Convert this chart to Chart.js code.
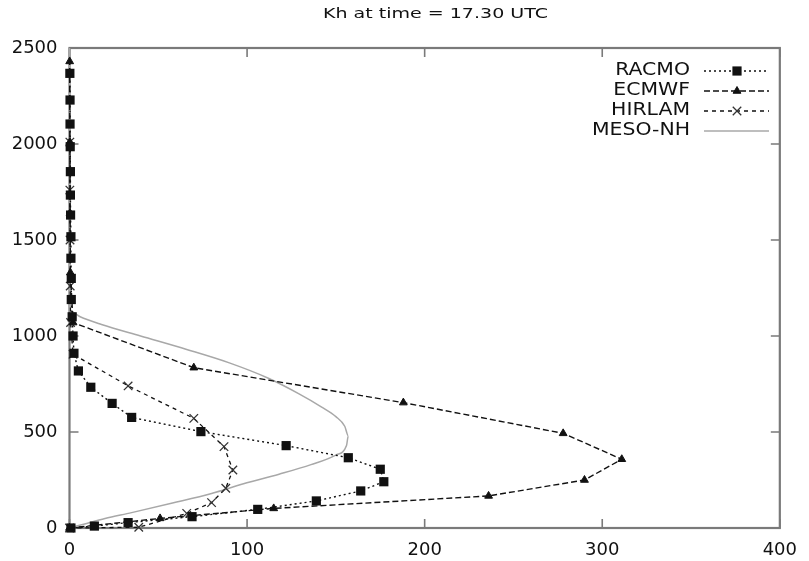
<!DOCTYPE html>
<html>
<head>
<meta charset="utf-8">
<script src="https://cdn.jsdelivr.net/npm/chart.js@4/dist/chart.umd.min.js"></script>
<style>
  html, body { margin: 0; padding: 0; background: #fff; }
  #wrap { width: 809px; height: 561px; }
</style>
</head>
<body>
<div id="wrap"><canvas id="c" width="809" height="561"></canvas></div>
<script>
// Kh profiles (x = Kh, y = height) for each model at 17.30 UTC
const seriesNames = ['RACMO', 'ECMWF', 'HIRLAM', 'MESO-NH'];

const racmoKh = [0.8, 14, 33, 69, 106, 139, 164, 177, 175, 157, 122, 74, 35, 24, 12, 5, 2.5, 2, 1.5, 1, 1, 0.8, 0.8, 0.6, 0.5, 0.5, 0.4, 0.3, 0.3, 0.2];
const racmoZ  = [0, 10, 28, 59, 97, 141, 193, 241, 306, 366, 429, 502, 576, 649, 733, 818, 910, 1000, 1100, 1190, 1300, 1405, 1517, 1630, 1734, 1856, 1986, 2104, 2229, 2368];

const ecmwfKh = [0, 51, 115, 236, 290, 311, 278, 188, 70, 2, 0.5, 0.3, 0.2, 0.1];
const ecmwfZ  = [0, 50, 102, 167, 250, 358, 493, 653, 835, 1070, 1330, 1640, 2010, 2430];

const hirlamKh = [0, 39, 66, 80, 88, 92, 87, 70, 33, 2, 0.6, 0.4, 0.3, 0.2, 0.2];
const hirlamZ  = [0, 4, 76, 132, 207, 302, 424, 571, 740, 905, 1070, 1260, 1500, 1760, 2010];

const mesoKh = [0, 8, 20, 35, 58, 80, 98, 118, 136, 150, 156, 157, 155, 150, 142, 129, 112, 90, 66, 40, 18, 6, 0, 0];
const mesoZ  = [0, 20, 50, 80, 130, 180, 230, 280, 330, 380, 430, 480, 530, 580, 630, 700, 780, 860, 930, 1000, 1060, 1100, 1130, 2500];

const xTicks = [0, 100, 200, 300, 400];
const yTicks = [0, 500, 1000, 1500, 2000, 2500];
const titleText = 'Kh at time = 17.30 UTC';

function pts(xs, ys) { return xs.map((v, i) => ({ x: v, y: ys[i] })); }

const ink = '#111';
const frameColor = '#7a7a7a';

// Frame with inward ticks on all four sides (drawn under the data)
const framePlugin = {
  id: 'frame',
  beforeDatasetsDraw(chart) {
    const { ctx, chartArea: a, scales } = chart;
    ctx.save();
    ctx.strokeStyle = frameColor;
    ctx.lineWidth = 2.2;
    ctx.strokeRect(a.left, a.top, a.right - a.left, a.bottom - a.top);
    ctx.lineWidth = 1.6;
    const tl = 9;
    ctx.beginPath();
    xTicks.forEach(v => {
      const px = scales.x.getPixelForValue(v);
      ctx.moveTo(px, a.bottom); ctx.lineTo(px, a.bottom - tl);
      ctx.moveTo(px, a.top); ctx.lineTo(px, a.top + tl);
    });
    yTicks.forEach(v => {
      const py = scales.y.getPixelForValue(v);
      ctx.moveTo(a.left, py); ctx.lineTo(a.left + tl, py);
      ctx.moveTo(a.right, py); ctx.lineTo(a.right - tl, py);
    });
    ctx.stroke();
    ctx.restore();
  }
};

// Title and key: right-aligned names followed by line samples
const keyPlugin = {
  id: 'key',
  afterDraw(chart) {
    const { ctx } = chart;
    ctx.save();
    ctx.fillStyle = ink;
    ctx.textBaseline = 'middle';

    // title
    ctx.font = '14px "DejaVu Sans"';
    const tw = ctx.measureText(titleText).width;
    const sx = 225 / tw;
    ctx.save();
    ctx.translate(435.5, 14.5);
    ctx.scale(sx, 1);
    ctx.textAlign = 'center';
    ctx.fillText(titleText, 0, 0);
    ctx.restore();

    // key entries
    ctx.font = '17px "DejaVu Sans"';
    const textRight = 690;
    const x0 = 704, x1 = 769, xm = 737;
    chart.data.datasets.forEach((ds, i) => {
      const y = 71 + i * 20;
      ctx.save();
      ctx.translate(textRight, y);
      ctx.scale(1.2, 1);
      ctx.textAlign = 'right';
      ctx.fillStyle = ink;
      ctx.fillText(ds.label, 0, 0);
      ctx.restore();

      ctx.save();
      ctx.strokeStyle = ds.borderColor;
      ctx.lineWidth = ds.borderWidth;
      ctx.setLineDash(ds.borderDash || []);
      ctx.beginPath();
      ctx.moveTo(x0, y); ctx.lineTo(x1, y);
      ctx.stroke();
      ctx.restore();
      if (ds.pointRadius > 0) {
        ctx.save();
        ctx.setLineDash([]);
        ctx.fillStyle = ds.pointBackgroundColor;
        ctx.strokeStyle = ds.pointBorderColor;
        ctx.lineWidth = ds.pointBorderWidth;
        Chart.helpers.drawPoint(ctx, {
          pointStyle: ds.pointStyle,
          radius: ds.pointRadius,
          borderWidth: ds.pointBorderWidth,
          rotation: 0
        }, xm, y);
        ctx.restore();
      }
    });
    ctx.restore();
  }
};

const datasets = [
  {
    label: seriesNames[0],
    data: pts(racmoKh, racmoZ),
    borderColor: ink, borderWidth: 1.4, borderDash: [2, 3],
    pointStyle: 'rect', pointRadius: 6.5, pointBorderWidth: 0,
    pointBackgroundColor: ink, pointBorderColor: ink,
    order: 1
  },
  {
    label: seriesNames[1],
    data: pts(ecmwfKh, ecmwfZ),
    borderColor: ink, borderWidth: 1.4, borderDash: [6, 3],
    pointStyle: 'triangle', pointRadius: 4.5, pointBorderWidth: 1,
    pointBackgroundColor: ink, pointBorderColor: ink,
    order: 2
  },
  {
    label: seriesNames[2],
    data: pts(hirlamKh, hirlamZ),
    borderColor: ink, borderWidth: 1.3, borderDash: [4, 4],
    pointStyle: 'crossRot', pointRadius: 6, pointBorderWidth: 1.3,
    pointBackgroundColor: ink, pointBorderColor: '#333',
    order: 3
  },
  {
    label: seriesNames[3],
    data: pts(mesoKh, mesoZ),
    borderColor: '#a8a8a8', borderWidth: 1.5, borderDash: [],
    pointStyle: 'circle', pointRadius: 0, pointBorderWidth: 0,
    cubicInterpolationMode: 'monotone',
    order: 4
  }
];

const plainNumber = v => String(v);

new Chart(document.getElementById('c'), {
  type: 'scatter',
  data: { datasets: datasets.map(d => Object.assign({ showLine: true, clip: false, fill: false, pointHoverRadius: 0 }, d)) },
  options: {
    responsive: false,
    animation: false,
    devicePixelRatio: 1,
    layout: { padding: { top: 48, right: 14, left: 0, bottom: 0 } },
    plugins: { legend: { display: false }, title: { display: false }, tooltip: { enabled: false } },
    scales: {
      x: {
        type: 'linear', min: 0, max: 400,
        afterBuildTicks: s => { s.ticks = xTicks.map(v => ({ value: v })); },
        afterFit: s => { s.height = 33; },
        grid: { display: false, drawTicks: false },
        border: { display: false },
        ticks: { color: ink, padding: 12, font: { family: 'DejaVu Sans', size: 18 }, maxRotation: 0, callback: plainNumber }
      },
      y: {
        type: 'linear', min: 0, max: 2500,
        afterBuildTicks: s => { s.ticks = yTicks.map(v => ({ value: v })); },
        afterFit: s => { s.width = 69.5; },
        grid: { display: false, drawTicks: false },
        border: { display: false },
        ticks: { color: ink, padding: 12, font: { family: 'DejaVu Sans', size: 18 }, callback: plainNumber }
      }
    }
  },
  plugins: [framePlugin, keyPlugin]
});
</script>
</body>
</html>
